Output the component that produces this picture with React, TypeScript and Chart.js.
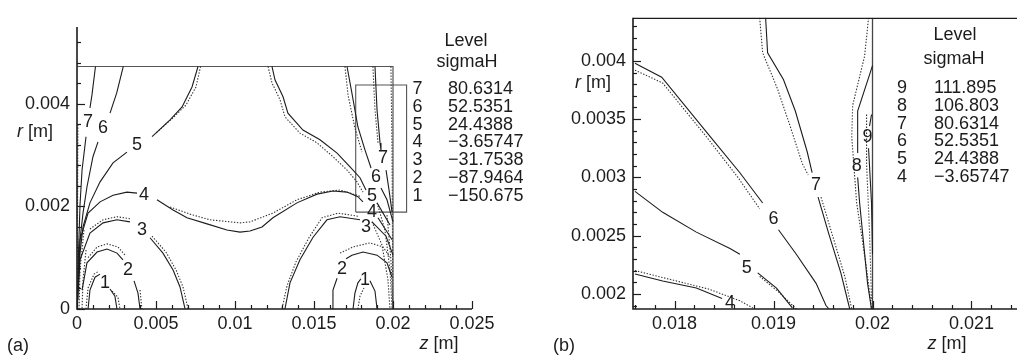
import React, { useEffect, useRef } from "react";
import { Chart, registerables } from "chart.js";
Chart.register(...registerables);

type P = [number, number];

// ---------- legend tables ----------
const levelsA = ["7", "6", "5", "4", "3", "2", "1"];
const valuesA = ["80.6314", "52.5351", "24.4388", "\u22123.65747", "\u221231.7538", "\u221287.9464", "\u2212150.675"];
const levelsB = ["9", "8", "7", "6", "5", "4"];
const valuesB = ["111.895", "106.803", "80.6314", "52.5351", "24.4388", "\u22123.65747"];

// ---------- axes ----------
const rangeAx = [0, 0.025];
const rangeAy = [0, 0.0055];
const rangeBx = [0.01758, 0.02146];
const rangeBy = [0.00187, 0.00437];
const ticksAx = [0, 0.005, 0.01, 0.015, 0.02, 0.025];
const ticksAy = [0, 0.002, 0.004];
const ticksBx = [0.018, 0.019, 0.02, 0.021];
const ticksBy = [0.002, 0.0025, 0.003, 0.0035, 0.004];
const stepsA = { xMajor: 0.005, xMinor: 0.001, yMajor: 0.002, yMinor: 0.0004 };
const stepsB = { xMajor: 0.001, xMinor: 0.0002, yMajor: 0.0005, yMinor: 0.0001 };

// ---------- panel (a) contours: solid (computed) ----------
const aSolid: P[][] = [
  // 7 left
  [[0.00117, 0.00473], [0.00095, 0.00418], [0.00082, 0.00392]],
  [[0.00057, 0.00336], [0.00032, 0.00271], [0.00019, 0.00203], [0.0001, 0.00115], [0.00003, 0.00008]],
  // 6 left
  [[0.00293, 0.00473], [0.00251, 0.00421], [0.00209, 0.00382]],
  [[0.00133, 0.00326], [0.00101, 0.00297], [0.00063, 0.00238], [0.00038, 0.00187], [0.00019, 0.00135], [0.00006, 0.00037]],
  // 5 left
  [[0.00766, 0.00473], [0.00728, 0.00433], [0.00665, 0.00394], [0.00589, 0.00369], [0.00475, 0.00336]],
  [[0.00316, 0.00306], [0.00228, 0.00285], [0.00146, 0.00248], [0.00082, 0.00207], [0.00038, 0.0016], [0.00019, 0.00109], [0.00006, 0.00018]],
  // 4
  [[0.0001, 0.00076], [0.00019, 0.00135], [0.0007, 0.00187], [0.00146, 0.00209], [0.00228, 0.00222], [0.00316, 0.00228], [0.0038, 0.00226]],
  [[0.00506, 0.00213], [0.00608, 0.00193], [0.00696, 0.00178], [0.00823, 0.00166], [0.00949, 0.00154], [0.01032, 0.0015], [0.01095, 0.00152], [0.01171, 0.0016], [0.0124, 0.00178], [0.01392, 0.00207], [0.01519, 0.00224], [0.0162, 0.0023], [0.01709, 0.00228], [0.01778, 0.00219], [0.0181, 0.00209]],
  [[0.01905, 0.00178], [0.01994, 0.00135]],
  // 3 left
  [[0.00006, 0.00037], [0.00019, 0.00096], [0.00082, 0.00148], [0.00165, 0.00168], [0.00253, 0.00174], [0.00335, 0.0017]],
  [[0.00462, 0.00139], [0.00544, 0.00109], [0.00608, 0.00076], [0.00652, 0.00043], [0.00684, 0]],
  // 3 right
  [[0.01791, 0.00174], [0.01665, 0.0018], [0.01582, 0.00174], [0.01494, 0.0014], [0.01411, 0.00096], [0.01348, 0.00051], [0.01316, 0]],
  [[0.01867, 0.0017], [0.01956, 0.00142], [0.02, 0.00105]],
  // 2 left
  [[0.00032, 0.00037], [0.00063, 0.0009], [0.00127, 0.00111], [0.0019, 0.00117], [0.00253, 0.00109], [0.00291, 0.00096]],
  [[0.00361, 0.00055], [0.00386, 0.00031], [0.00399, 0]],
  // 2 right
  [[0.01614, 0], [0.0162, 0.00037], [0.01646, 0.0006]],
  [[0.01703, 0.00098], [0.0174, 0.00105], [0.0181, 0.00111], [0.01899, 0.00105], [0.01962, 0.0009], [0.01994, 0.00062]],
  // 1 left
  [[0.0007, 0], [0.00082, 0.00037], [0.00114, 0.00062], [0.00146, 0.00068]],
  [[0.00209, 0.00039], [0.0024, 0.00025], [0.00253, 0]],
  // 1 right
  [[0.01747, 0], [0.01759, 0.00031], [0.01778, 0.00051], [0.01797, 0.00059]],
  [[0.01854, 0.00055], [0.01886, 0.00035], [0.01899, 0]],
  // 5 right
  [[0.01234, 0.00473], [0.01253, 0.00447], [0.01304, 0.00414], [0.01335, 0.00382], [0.0143, 0.00349], [0.01538, 0.0033], [0.01646, 0.00304], [0.01728, 0.00277], [0.01791, 0.00256], [0.01829, 0.00232]],
  [[0.01899, 0.00207], [0.01981, 0.00164]],
  // 6 right
  [[0.01709, 0.00473], [0.0174, 0.00421], [0.01778, 0.00355], [0.01823, 0.0031], [0.01861, 0.00275]],
  [[0.01924, 0.00236], [0.01962, 0.00213], [0.02, 0.0017]],
  // 7 right
  [[0.01886, 0.00473], [0.01899, 0.00388], [0.01918, 0.00324], [0.01924, 0.0031]],
  [[0.01956, 0.00271], [0.01975, 0.00232], [0.01994, 0.00189]],
];

// ---------- panel (a) contours: dotted (reference) ----------
const aDotted: P[][] = [
  [[0.00782, 0.00473], [0.00753, 0.00433], [0.0069, 0.00398], [0.00608, 0.00373], [0.005, 0.00343]],
  [[0.00589, 0.00199], [0.00715, 0.00185], [0.00842, 0.00174], [0.01032, 0.00168], [0.01095, 0.0017], [0.0124, 0.00187], [0.01392, 0.00213], [0.01538, 0.00228], [0.01665, 0.00232], [0.01791, 0.0022]],
  [[0.00082, 0.00156], [0.00165, 0.00174], [0.00253, 0.0018], [0.00335, 0.00176]],
  [[0.00475, 0.00142], [0.00563, 0.00111], [0.00627, 0.00076], [0.00671, 0.00043], [0.00703, 0]],
  [[0.01778, 0.00181], [0.01652, 0.00187], [0.01551, 0.00178], [0.01468, 0.00139], [0.01386, 0.00092], [0.01329, 0.00045], [0.01297, 0]],
  [[0.0007, 0.001], [0.00127, 0.00121], [0.0019, 0.00127], [0.00259, 0.00121], [0.00304, 0.00105]],
  [[0.00399, 0.00037], [0.00411, 0]],
  [[0.01665, 0.00109], [0.01747, 0.00121], [0.01854, 0.00129], [0.01937, 0.00121], [0.01981, 0.00101]],
  [[0.00057, 0], [0.0007, 0.00041], [0.00108, 0.00068], [0.00139, 0.00074]],
  [[0.00222, 0.00035], [0.00259, 0.00023], [0.00272, 0]],
  [[0.01778, 0], [0.01791, 0.00025], [0.01816, 0.00041]],
  [[0.01209, 0.00473], [0.01234, 0.00441], [0.01285, 0.00408], [0.01316, 0.00375], [0.01411, 0.00343], [0.01519, 0.00324], [0.0162, 0.00297], [0.01709, 0.00271], [0.01772, 0.00248], [0.0181, 0.00228]],
  [[0.01696, 0.00473], [0.01715, 0.00418], [0.01759, 0.00353], [0.01804, 0.00306]],
  [[0.01873, 0.00473], [0.01886, 0.00388], [0.01905, 0.00324]],
  [[0.01987, 0.00473], [0.01994, 0.0031], [0.01997, 0.00115], [0.02, 0]],
  [[0.01899, 0.00207], [0.01949, 0.00154], [0.01981, 0.00076], [0.01994, 0]],
  [[0.01867, 0.0017], [0.0193, 0.00125], [0.01968, 0.00057], [0.01981, 0]],
  [[0.01962, 0.00183], [0.01987, 0.00096], [0.02, 0]],
  [[0.00044, 0.00154], [0.00019, 0.00076], [0.00013, 0]],
  [[0.00057, 0.00115], [0.00038, 0.00057], [0.00032, 0]],
  [[0.00006, 0.0036], [0.00003, 0.0015], [0.00002, 0]],
];

// domain outline and zoom window of panel (a)
const aDomain: P[] = [[0, 0.00473], [0.02, 0.00473], [0.02, 0]];
const aZoomBox: P[] = [[0.01764, 0.00189], [0.02086, 0.00189], [0.02086, 0.00437], [0.01764, 0.00437], [0.01764, 0.00189]];

// contour labels of panel (a)
const aLabels: [number, number, string][] = [
  [0.0007, 0.00365, "7"], [0.00165, 0.00353, "6"], [0.0038, 0.0032, "5"], [0.00424, 0.00222, "4"],
  [0.00411, 0.00154, "3"], [0.00323, 0.00076, "2"], [0.00177, 0.00051, "1"],
  [0.01937, 0.00295, "7"], [0.01892, 0.00258, "6"], [0.01867, 0.0022, "5"], [0.01867, 0.00189, "4"],
  [0.01829, 0.0016, "3"], [0.01677, 0.00078, "2"], [0.01823, 0.00057, "1"],
];

// ---------- panel (b) contours ----------
const bSolid: P[][] = [
  [[0.0176, 0.00398], [0.01787, 0.00386], [0.01835, 0.00336], [0.01866, 0.00304], [0.01889, 0.00278]],
  [[0.01905, 0.00255], [0.01923, 0.00234], [0.01943, 0.00209], [0.01953, 0.0019], [0.01956, 0.00187]],
  [[0.0176, 0.00288], [0.01788, 0.0027], [0.01822, 0.00253], [0.01856, 0.00239], [0.01866, 0.00234]],
  [[0.01884, 0.00218], [0.01903, 0.00205], [0.01919, 0.00188]],
  [[0.0176, 0.00217], [0.01788, 0.00211], [0.01822, 0.00205], [0.01848, 0.00196]],
  [[0.01892, 0.00437], [0.01894, 0.00407], [0.0191, 0.00384], [0.01922, 0.00357], [0.01934, 0.00322], [0.01939, 0.00304]],
  [[0.01945, 0.00283], [0.01956, 0.00251], [0.01968, 0.00218], [0.01977, 0.00187]],
  [[0.02, 0.00396], [0.01985, 0.00357], [0.01985, 0.00321]],
  [[0.01985, 0.003], [0.01987, 0.00278], [0.01995, 0.00209], [0.01999, 0.00187]],
  [[0.01999, 0.00354], [0.01997, 0.00344]],
  [[0.01996, 0.00325], [0.01999, 0.00278], [0.02, 0.00234]],
];
const bDotted: P[][] = [
  [[0.0176, 0.00392], [0.01788, 0.00381], [0.01833, 0.00334], [0.01864, 0.003], [0.01886, 0.00273]],
  [[0.01886, 0.00215], [0.01906, 0.00201], [0.01923, 0.00187]],
  [[0.0176, 0.0022], [0.01788, 0.00214], [0.01835, 0.00204], [0.01866, 0.00194], [0.01879, 0.00188]],
  [[0.01886, 0.00437], [0.01889, 0.00407], [0.01904, 0.00376], [0.01916, 0.00346], [0.01929, 0.00312], [0.01935, 0.00302]],
  [[0.01948, 0.00283], [0.0196, 0.00249], [0.01972, 0.00215], [0.01979, 0.00187]],
  [[0.01996, 0.00437], [0.01992, 0.00404], [0.0198, 0.00362], [0.01979, 0.00335], [0.01984, 0.00278], [0.01994, 0.00222], [0.01999, 0.00187]],
  [[0.01994, 0.00354], [0.01994, 0.00312], [0.01997, 0.00253], [0.01999, 0.00194]],
];
const bWall: P[] = [[0.02, 0.00187], [0.02, 0.00437]];
const bLabels: [number, number, string][] = [
  [0.01856, 0.00192, "4"], [0.01873, 0.00222, "5"], [0.019, 0.00264, "6"],
  [0.01943, 0.00293, "7"], [0.01984, 0.0031, "8"], [0.01995, 0.00335, "9"],
];

const FONT = '"Liberation Sans", Arial, Helvetica, sans-serif';
const INK = "#1c1c1c";

const lineDs = (pts: P[], dotted: boolean, color = INK, width = 1.1) => ({
  data: pts.map(([x, y]) => ({ x, y })),
  showLine: true,
  borderColor: color,
  borderWidth: width,
  borderDash: dotted ? [1.4, 1.6] : [],
  pointRadius: 0,
  fill: false,
  tension: 0,
});

const fmt = (v: any) => {
  const n = parseFloat(Number(v).toFixed(6));
  return n === 0 ? "0" : String(n);
};

const framePlugin = {
  id: "frame",
  afterDatasetsDraw(chart: any, _a: any, opts: any) {
    const { ctx, chartArea } = chart;
    const { left, right, top, bottom } = chartArea;
    const xs = chart.scales.x;
    const ys = chart.scales.y;
    ctx.save();
    ctx.strokeStyle = INK;
    ctx.setLineDash([]);
    ctx.lineWidth = 1.6;
    ctx.beginPath();
    ctx.moveTo(left, top);
    ctx.lineTo(left, bottom);
    ctx.lineTo(right, bottom);
    ctx.stroke();
    if (opts.topBorder) {
      ctx.lineWidth = 1.2;
      ctx.beginPath();
      ctx.moveTo(left, top + 0.5);
      ctx.lineTo(right, top + 0.5);
      ctx.stroke();
    }
    ctx.lineWidth = 1.2;
    const ticks = (scale: any, minor: number, major: number, horiz: boolean) => {
      const start = Math.ceil(scale.min / minor - 1e-6);
      for (let i = start; i * minor <= scale.max + 1e-9; i++) {
        const v = i * minor;
        const isMajor = Math.abs(v / major - Math.round(v / major)) < 1e-4;
        const len = isMajor ? 8 : 4;
        const p = Math.round(scale.getPixelForValue(v)) + 0.5;
        ctx.beginPath();
        if (horiz) {
          ctx.moveTo(p, bottom);
          ctx.lineTo(p, bottom - len);
        } else {
          ctx.moveTo(left, p);
          ctx.lineTo(left + len, p);
        }
        ctx.stroke();
      }
    };
    ticks(xs, opts.xMinor, opts.xMajor, true);
    ticks(ys, opts.yMinor, opts.yMajor, false);
    ctx.fillStyle = INK;
    ctx.font = `18px ${FONT}`;
    ctx.textAlign = "center";
    ctx.textBaseline = "middle";
    for (const [z, r, t] of opts.labels) {
      ctx.fillText(t, xs.getPixelForValue(z), ys.getPixelForValue(r));
    }
    ctx.restore();
  },
};

function makeConfig(
  datasets: any[],
  xr: number[],
  yr: number[],
  xt: number[],
  yt: number[],
  steps: any,
  yWidth: number,
  padding: any,
  labels: any,
  topBorder: boolean
) {
  const tickFont = { family: FONT, size: 18 };
  return {
    type: "scatter" as const,
    data: { datasets },
    plugins: [framePlugin],
    options: {
      animation: false,
      responsive: false,
      devicePixelRatio: 1,
      layout: { padding },
      plugins: {
        legend: { display: false },
        tooltip: { enabled: false },
        frame: { ...steps, labels, topBorder },
      },
      scales: {
        x: {
          type: "linear",
          min: xr[0],
          max: xr[1],
          grid: { display: false, drawTicks: false },
          border: { display: false },
          afterBuildTicks: (s: any) => {
            s.ticks = xt.map((value) => ({ value }));
          },
          afterFit: (s: any) => {
            s.height = 47;
          },
          ticks: {
            autoSkip: false,
            maxRotation: 0,
            padding: 4,
            color: INK,
            font: tickFont,
            callback: fmt,
          },
        },
        y: {
          type: "linear",
          min: yr[0],
          max: yr[1],
          grid: { display: false, drawTicks: false },
          border: { display: false },
          afterBuildTicks: (s: any) => {
            s.ticks = yt.map((value) => ({ value }));
          },
          afterFit: (s: any) => {
            s.width = yWidth;
          },
          ticks: {
            autoSkip: false,
            padding: 7,
            color: INK,
            font: tickFont,
            callback: fmt,
          },
        },
      },
    },
  };
}

const txt = (x: number, y: number, content: any, align: "center" | "left" = "center") => (
  <div
    style={{
      position: "absolute",
      left: x,
      top: y,
      transform: align === "center" ? "translate(-50%, -50%)" : "translate(0, -50%)",
      whiteSpace: "nowrap",
      lineHeight: 1,
      fontFamily: FONT,
      fontSize: 18,
      color: INK,
    }}
  >
    {content}
  </div>
);

export default function App() {
  const refA = useRef<HTMLCanvasElement>(null);
  const refB = useRef<HTMLCanvasElement>(null);

  useEffect(() => {
    const dsA = [
      ...aSolid.map((s) => lineDs(s, false)),
      ...aDotted.map((s) => lineDs(s, true, "#333")),
      lineDs(aDomain, false, "#555", 1.2),
      lineDs(aZoomBox, false, "#555", 1.1),
    ];
    const dsB = [
      ...bSolid.map((s) => lineDs(s, false)),
      ...bDotted.map((s) => lineDs(s, true, "#333")),
      lineDs(bWall, false, "#444", 1.3),
    ];
    const ca = new Chart(
      refA.current as HTMLCanvasElement,
      makeConfig(dsA, rangeAx, rangeAy, ticksAx, ticksAy, stepsA, 77, { left: 0, right: 43, top: 27, bottom: 0 }, aLabels, false) as any
    );
    const cb = new Chart(
      refB.current as HTMLCanvasElement,
      makeConfig(dsB, rangeBx, rangeBy, ticksBx, ticksBy, stepsB, 118, { left: 0, right: 0, top: 9, bottom: 0 }, bLabels, true) as any
    );
    return () => {
      ca.destroy();
      cb.destroy();
    };
  }, []);

  const zm = (
    <span>
      <i>z</i> [m]
    </span>
  );
  const rm = (
    <span>
      <i>r</i> [m]
    </span>
  );

  return (
    <div style={{ position: "fixed", left: 0, top: 0, width: 1017, height: 356, background: "#fff", overflow: "hidden" }}>
      <canvas ref={refA} width={515} height={356} style={{ position: "absolute", left: 0, top: 0, width: 515, height: 356 }} />
      <canvas ref={refB} width={502} height={356} style={{ position: "absolute", left: 515, top: 0, width: 502, height: 356 }} />
      {txt(35, 131, rm)}
      {txt(439, 343, zm)}
      {txt(18, 345, "(a)")}
      {txt(466, 40, "Level")}
      {txt(467, 61, "sigmaH")}
      {levelsA.map((l, i) => (
        <React.Fragment key={"a" + i}>
          {txt(417.5, 88 + 17.8 * i, l)}
          {txt(448, 88 + 17.8 * i, valuesA[i], "left")}
        </React.Fragment>
      ))}
      {txt(593, 82, rm)}
      {txt(947, 343, zm)}
      {txt(564, 345, "(b)")}
      {txt(955, 34, "Level")}
      {txt(954, 58, "sigmaH")}
      {levelsB.map((l, i) => (
        <React.Fragment key={"b" + i}>
          {txt(902, 87 + 17.8 * i, l)}
          {txt(934, 87 + 17.8 * i, valuesB[i], "left")}
        </React.Fragment>
      ))}
    </div>
  );
}
